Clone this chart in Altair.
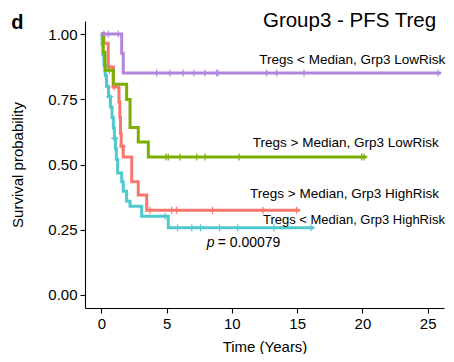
import altair as alt
import pandas as pd

FONT = "Liberation Sans"

groups = [
    "Tregs > Median, Grp3 HighRisk",
    "Tregs < Median, Grp3 HighRisk",
    "Tregs > Median, Grp3 LowRisk",
    "Tregs < Median, Grp3 LowRisk",
]
colors = ["#F8766D", "#4FC9CE", "#7CAE00", "#B184DD"]

# step curves: event times and survival after each event (last entry = end of follow-up)
red_t = [0, 0.2, 0.53, 0.92, 1.35, 1.42, 1.47, 1.52, 1.68, 2.33, 2.83, 3.48, 15.2]
red_s = [1.0, 0.965, 0.874, 0.797, 0.74, 0.68, 0.62, 0.57, 0.529, 0.434, 0.383, 0.325, 0.325]
red_c = [0.98, 1.6, 3.73, 5.39, 5.76, 8.52, 12.38, 14.97]

cyan_t = [0, 0.06, 0.12, 0.2, 0.3, 0.4, 0.55, 0.7, 0.82, 0.92, 1.0, 1.08, 1.15, 1.25,
          1.56, 1.68, 1.94, 2.2, 3.09, 5.13, 16.3]
cyan_s = [1.0, 0.96, 0.92, 0.88, 0.84, 0.80, 0.76, 0.72, 0.68, 0.64, 0.60, 0.56, 0.52, 0.467,
          0.434, 0.397, 0.359, 0.34, 0.302, 0.258, 0.258]
cyan_c = [0.65, 1.03, 4.88, 5.84, 6.93, 7.6, 9.05, 10.45, 13.23, 16.06]

green_t = [0, 0.15, 0.28, 0.92, 1.94, 2.2, 2.83, 3.6, 20.3]
green_s = [1.0, 0.93, 0.861, 0.808, 0.749, 0.642, 0.586, 0.529, 0.529]
green_c = [0.61, 4.95, 5.13, 6.03, 7.31, 7.94, 10.55, 19.95, 20.12]

purple_t = [0, 1.56, 1.68, 26.0]
purple_s = [1.0, 0.926, 0.851, 0.851]
purple_c = [0.2, 0.53, 1.3, 4.24, 5.26, 6.26, 7.1, 7.94, 8.84, 8.94, 12.67, 13.44, 15.53, 25.8]

curves = [(red_t, red_s, red_c), (cyan_t, cyan_s, cyan_c),
          (green_t, green_s, green_c), (purple_t, purple_s, purple_c)]

line_rows, cens_rows = [], []
for gi, (g, (ts, ss, cs)) in enumerate(zip(groups, curves)):
    for t, s in zip(ts, ss):
        line_rows.append({"group": g, "order": gi, "t": t, "s": s})
    for c in cs:
        lvl = ss[0]
        for t, s in zip(ts, ss):
            if t <= c:
                lvl = s
        cens_rows.append({"group": g, "t": c, "s": lvl})

lines_df = pd.DataFrame(line_rows)
cens_df = pd.DataFrame(cens_rows)

label_text = groups
label_t = [11.39, 12.38, 11.6, 12.1]
label_s = [0.386, 0.287, 0.581, 0.902]
label_fs = [13.5, 13, 13.5, 13.5]
labels_df = pd.DataFrame({"text": label_text, "t": label_t, "s": label_s, "fs": label_fs})

xscale = alt.Scale(domain=[-1.25, 26.25], nice=False, zero=False)
yscale = alt.Scale(domain=[-0.05, 1.05], nice=False, zero=False)
cscale = alt.Scale(domain=groups, range=colors)

base = alt.Chart(lines_df)

lines = base.mark_line(interpolate="step-after", strokeWidth=3, clip=True).encode(
    x=alt.X("t:Q", scale=xscale,
            axis=alt.Axis(values=[0, 5, 10, 15, 20, 25], title="Time (Years)",
                          titlePadding=8)),
    y=alt.Y("s:Q", scale=yscale,
            axis=alt.Axis(values=[0, 0.25, 0.5, 0.75, 1.0], format=".2f",
                          title="Survival probability", titlePadding=22)),
    color=alt.Color("group:N", scale=cscale, legend=None),
    detail="group:N",
    order="t:Q",
)

cens = alt.Chart(cens_df).mark_point(
    shape="M0,-1L0,1M-1,0L1,0", size=49, strokeWidth=1.2, filled=False, opacity=1
).encode(
    x=alt.X("t:Q", scale=xscale),
    y=alt.Y("s:Q", scale=yscale),
    color=alt.Color("group:N", scale=cscale, legend=None),
)

labels = alt.Chart(labels_df).mark_text(
    align="left", baseline="middle", font=FONT, color="black"
).encode(x=alt.X("t:Q", scale=xscale), y=alt.Y("s:Q", scale=yscale), text="text:N",
         size=alt.Size("fs:Q", scale=None))

p_ital = alt.Chart(pd.DataFrame({"t": [8.07], "s": [0.198]})).mark_text(
    align="left", baseline="middle", font=FONT, fontSize=14, fontStyle="italic", color="black"
).encode(x=alt.X("t:Q", scale=xscale), y=alt.Y("s:Q", scale=yscale), text=alt.value("p"))
p_rest = alt.Chart(pd.DataFrame({"t": [8.07], "s": [0.198]})).mark_text(
    align="left", baseline="middle", font=FONT, fontSize=14, color="black", dx=11
).encode(x=alt.X("t:Q", scale=xscale), y=alt.Y("s:Q", scale=yscale), text=alt.value("= 0.00079"))

title = alt.Chart(pd.DataFrame({"t": [12.38], "s": [1.05]})).mark_text(
    align="left", baseline="middle", font=FONT, fontSize=20.5, color="black"
).encode(x=alt.X("t:Q", scale=xscale), y=alt.Y("s:Q", scale=yscale),
         text=alt.value("Group3 - PFS Treg"))

panel = alt.Chart(pd.DataFrame({"t": [-6.9], "s": [1.021]})).mark_text(
    align="left", baseline="alphabetic", font=FONT, fontSize=20, fontWeight="bold", color="black"
).encode(x=alt.X("t:Q", scale=xscale), y=alt.Y("s:Q", scale=yscale), text=alt.value("d"))

chart = alt.layer(lines, cens, labels, p_ital, p_rest, title, panel).properties(
    width=359, height=287,
    autosize=alt.AutoSizeParams(type="none"),
    padding={"left": 77, "top": 13, "right": 2, "bottom": 46},
).configure_view(stroke=None).configure_axis(
    grid=False, domainColor="black", domainWidth=1.1, tickColor="black", tickWidth=1.1,
    tickSize=5, labelColor="black", labelFont=FONT, labelFontSize=15, labelPadding=3,
    titleFont=FONT, titleFontSize=15, titleFontWeight="normal", titleColor="black",
)

chart.save("out.html", embed_options={"renderer": "svg", "actions": False})
